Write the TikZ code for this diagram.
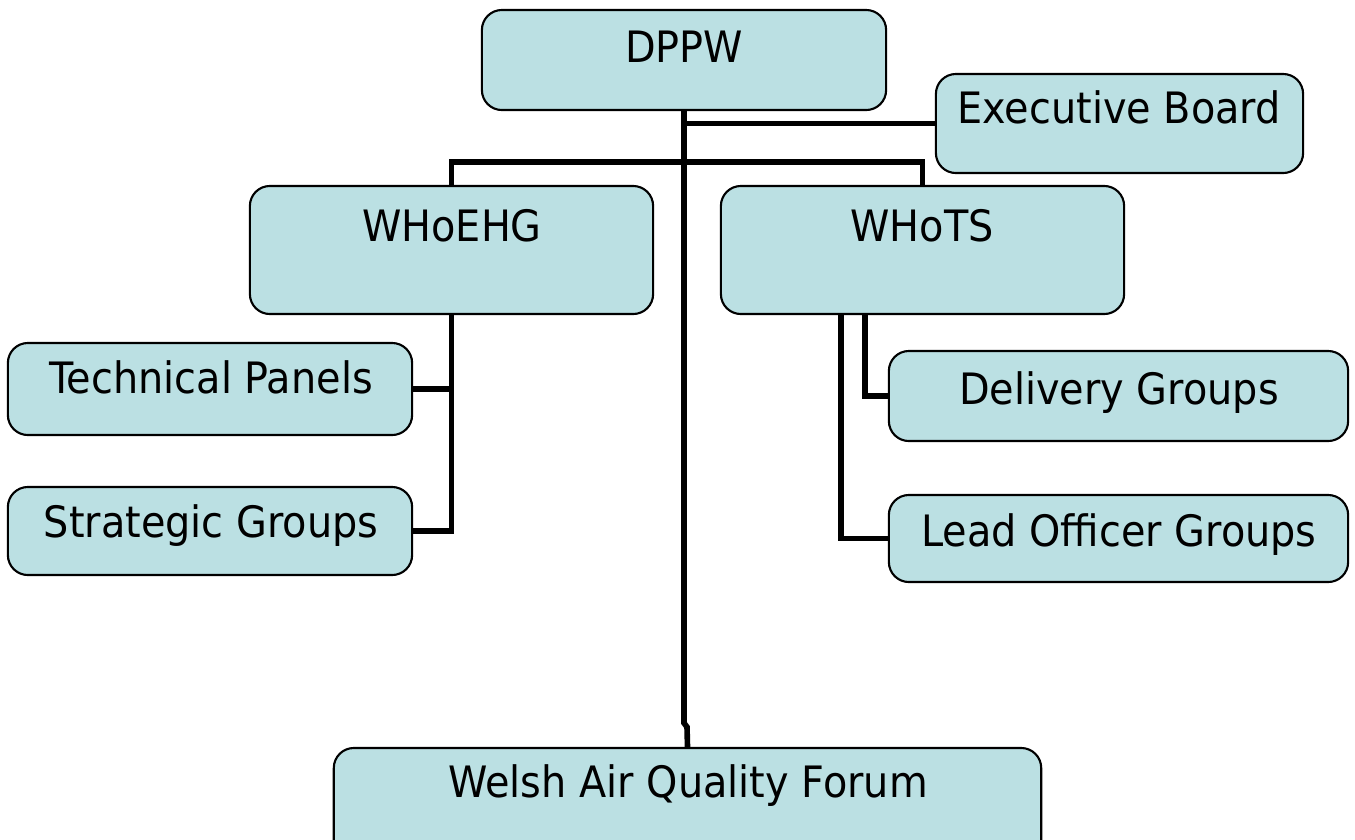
\documentclass[tikz,border=0pt]{standalone}
\usepackage{fontspec}
\setmainfont[FakeStretch=0.92]{DejaVu Sans}
\usepackage{xcolor}
\usepackage{tikz}
\definecolor{boxfill}{HTML}{BBE0E3}
\tikzset{
  orgbox/.style={draw=black, line width=0.6pt, fill=boxfill, rounded corners=0.2cm, inner sep=0pt},
  boxtext/.style={anchor=base, inner sep=0pt, font=\fontsize{12.3}{15}\selectfont},
  link/.style={line width=1.6pt}
}

\begin{document}
\begin{tikzpicture}[x=0.01cm, y=-0.01cm]
         \useasboundingbox (0,0) rectangle (1355,839);
         \node[orgbox, minimum width=4.04cm, minimum height=1.00cm] (dppw) at (684,60) {};
         \node[orgbox, minimum width=3.67cm, minimum height=0.99cm] (exec) at (1119.5,123.5) {};
         \node[orgbox, minimum width=4.03cm, minimum height=1.28cm] (whoehg) at (451.5,250) {};
         \node[orgbox, minimum width=4.03cm, minimum height=1.28cm] (whots) at (922.5,250) {};
         \node[orgbox, minimum width=4.04cm, minimum height=0.92cm] (techp) at (210,389) {};
         \node[orgbox, minimum width=4.04cm, minimum height=0.88cm] (strat) at (210,531) {};
         \node[orgbox, minimum width=4.59cm, minimum height=0.90cm] (deliv) at (1118.5,396) {};
         \node[orgbox, minimum width=4.59cm, minimum height=0.87cm] (lead) at (1118.5,538.5) {};
         \node[orgbox, minimum width=7.07cm, minimum height=1.20cm] (waqf) at (687.5,808) {};

         \node[boxtext] (dppwtxt) at (684,62) {DPPW};
         \node[boxtext] (exectxt) at (1119,123) {Executive Board};
         \node[boxtext] (whoehgtxt) at (452,241) {WHoEHG};
         \node[boxtext] (whotstxt) at (922,241) {WHoTS};
         \node[boxtext] (techptxt) at (211,393) {Technical Panels};
         \node[boxtext] (strattxt) at (211,537) {Strategic Groups};
         \node[boxtext] (delivtxt) at (1119,404) {Delivery Groups};
         \node[boxtext] (leadtxt) at (1119,546) {Lead Officer Groups};
         \node[boxtext] (waqftxt) at (688,797) {Welsh Air Quality Forum};

         \coordinate (split) at (684,162);
         \coordinate (jog) at (684,723);
         \draw[link] (dppw.south) -- (jog) -- ++(3,4) -- (waqf.north);
         \draw[link] (dppw.south |- exec.west) -- (exec.west);
         \draw[link] (whoehg.north) |- (split) -| (whots.north);
         \draw[link] (whoehg.south) |- (strat.east);
         \draw[link] (techp.east) -- (techp.east -| whoehg.south);
         \draw[link] ([xshift=1.21cm]whots.south west) |- (lead.west);
         \draw[link] ([xshift=1.45cm]whots.south west) |- (deliv.west);
        \end{tikzpicture}
\end{document}
